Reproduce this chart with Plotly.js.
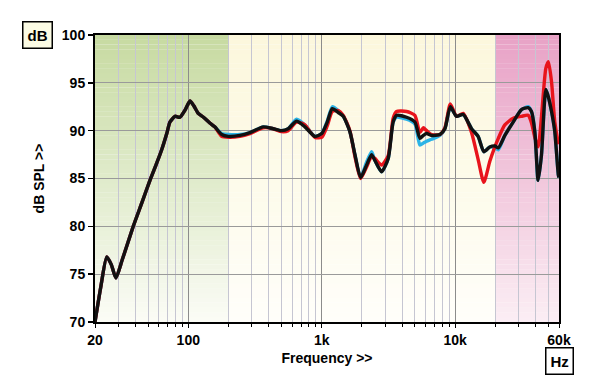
<!DOCTYPE html>
<html>
<head>
<meta charset="utf-8">
<script src="https://cdn.plot.ly/plotly-3.0.1.min.js"></script>
<style>
  html, body { margin: 0; padding: 0; background: #ffffff; }
  #chart { width: 600px; height: 389px; }
</style>
</head>
<body>
<div id="chart"></div>
<script>
// ---------- data ----------
const freq = [20, 22, 24.5, 26.5, 28.7, 32, 38.7, 45, 51.6, 58, 63.2, 69, 72.9, 79.5, 86.6, 95, 103, 110, 118.8, 130, 145, 158, 178, 200, 244, 290, 365, 433, 500, 561, 648, 748, 889, 1000, 1100, 1200, 1330, 1450, 1626, 1774, 1956, 2168, 2365, 2502, 2811, 3150, 3430, 3640, 4325, 4990, 5440, 5770, 6110, 6650, 7680, 8380, 9200, 10240, 11480, 13270, 14860, 16400, 18190, 19830, 21050, 23570, 27200, 31400, 35240, 37320, 39530, 41870, 44360, 47800, 50000, 52750, 55800, 59300, 60000];

const splBlack = [70.0, 73.5, 76.8, 76.0, 74.6, 76.5, 80.0, 82.5, 84.8, 86.6, 88.0, 89.7, 90.9, 91.5, 91.4, 92.2, 93.1, 92.6, 91.8, 91.4, 90.8, 90.4, 89.6, 89.4, 89.5, 89.8, 90.4, 90.2, 90.0, 90.2, 91.0, 90.4, 89.4, 89.7, 90.9, 92.3, 91.9, 91.5, 89.9, 87.5, 85.1, 86.4, 87.5, 86.9, 85.7, 87.1, 90.9, 91.6, 91.4, 90.9, 89.2, 89.5, 89.7, 89.5, 89.6, 90.2, 92.5, 91.5, 91.7, 90.2, 89.4, 87.8, 88.3, 88.4, 88.2, 89.5, 90.9, 92.2, 92.4, 92.0, 89.9, 84.8, 87.5, 94.3, 93.5, 92.0, 89.9, 85.4, 85.1];

const splRed = [70.0, 73.5, 76.8, 76.0, 74.6, 76.5, 80.0, 82.5, 84.8, 86.6, 88.0, 89.7, 90.9, 91.5, 91.4, 92.2, 93.1, 92.6, 91.8, 91.4, 90.8, 90.4, 89.4, 89.3, 89.4, 89.7, 90.3, 90.2, 89.9, 90.0, 90.9, 90.6, 89.3, 89.3, 90.5, 92.0, 92.1, 91.6, 90.0, 87.3, 85.0, 86.2, 87.3, 87.1, 86.4, 87.4, 91.3, 92.0, 92.0, 91.6, 89.8, 90.3, 90.0, 89.6, 89.6, 90.3, 92.8, 91.5, 91.8, 89.8, 87.0, 84.6, 86.8, 88.3, 89.2, 90.6, 91.3, 91.5, 91.6, 90.8, 89.3, 88.3, 91.5, 96.5, 97.2, 95.1, 90.9, 88.8, 88.6];

const splCyan = [70.0, 73.5, 76.8, 76.0, 74.6, 76.5, 80.0, 82.5, 84.8, 86.6, 88.0, 89.7, 90.9, 91.5, 91.4, 92.2, 93.1, 92.6, 91.8, 91.4, 90.8, 90.4, 89.7, 89.6, 89.6, 89.8, 90.4, 90.2, 90.0, 90.2, 91.2, 90.6, 89.4, 89.7, 91.0, 92.5, 92.1, 91.5, 89.9, 87.5, 85.1, 86.7, 87.8, 86.9, 85.7, 87.1, 90.9, 91.4, 91.2, 90.7, 88.5, 88.7, 88.9, 89.1, 89.5, 90.2, 92.5, 91.5, 91.7, 90.2, 89.4, 87.8, 88.3, 88.2, 88.0, 89.5, 90.9, 92.2, 92.5, 92.0, 89.9, 84.8, 87.5, 94.3, 93.5, 92.0, 89.9, 85.4, 85.1];

// tick labels
const xTickVals = [20, 100, 1000, 10000, 60000];
const xTickText = ['20', '100', '1k', '10k', '60k'];
const xMinorVals = [30, 40, 50, 60, 70, 80, 90, 200, 300, 400, 500, 600, 700, 800, 900,
  2000, 3000, 4000, 5000, 6000, 7000, 8000, 9000, 20000, 30000, 40000, 50000];

// background frequency bands: [bottom colour, middle colour, top colour]
const bandEdges = [20, 200, 20000, 60000];
const bandColours = [
  ['#fbfcf6', '#e0ebcb', '#c7daa1'],
  ['#fffefa', '#fdfbea', '#fcf7dc'],
  ['#fbeef4', '#f1c7dc', '#e8a2c6']
];

// ---------- helpers ----------
function hex2rgb(h) {
  return [parseInt(h.slice(1, 3), 16), parseInt(h.slice(3, 5), 16), parseInt(h.slice(5, 7), 16)];
}
function mix(a, b, t) {
  const A = hex2rgb(a), B = hex2rgb(b);
  return 'rgb(' + A.map((v, i) => Math.round(v + (B[i] - v) * t)).join(',') + ')';
}
function colourAt(stops, t) {
  if (t <= 0.5) return mix(stops[0], stops[1], t / 0.5);
  return mix(stops[1], stops[2], (t - 0.5) / 0.5);
}

const yMin = 70, yMax = 100;
const shapes = [];
const nStripes = 60;
for (let b = 0; b < bandEdges.length - 1; b++) {
  for (let s = 0; s < nStripes; s++) {
    const y0 = yMin + (yMax - yMin) * s / nStripes;
    const y1 = yMin + (yMax - yMin) * (s + 1) / nStripes + 0.02;
    shapes.push({
      type: 'rect', layer: 'below', xref: 'x', yref: 'y',
      x0: bandEdges[b], x1: bandEdges[b + 1],
      y0: y0, y1: Math.min(y1, yMax),
      line: { width: 0 },
      fillcolor: colourAt(bandColours[b], (s + 0.5) / nStripes)
    });
  }
}

const font = { family: '"Liberation Sans", Arial, sans-serif', size: 14, color: '#000', weight: 'bold' };
const boxFont = { family: '"Liberation Sans", Arial, sans-serif', size: 15, color: '#000', weight: 'bold' };

const lineCommon = { shape: 'spline', smoothing: 0.6, width: 3.4 };
const traces = [
  { x: freq, y: splCyan, type: 'scatter', mode: 'lines', line: Object.assign({ color: '#2bb3e6' }, lineCommon), hoverinfo: 'skip' },
  { x: freq, y: splRed, type: 'scatter', mode: 'lines', line: Object.assign({ color: '#e8141c' }, lineCommon), hoverinfo: 'skip' },
  { x: freq, y: splBlack, type: 'scatter', mode: 'lines', line: Object.assign({ color: '#111111' }, lineCommon), hoverinfo: 'skip' }
];

const layout = {
  width: 600, height: 389,
  margin: { l: 95, r: 41, t: 35, b: 67, pad: 0 },
  paper_bgcolor: '#ffffff',
  plot_bgcolor: '#ffffff',
  showlegend: false,
  font: font,
  xaxis: {
    type: 'log',
    range: [Math.log10(20), Math.log10(60000)],
    tickmode: 'array', tickvals: xTickVals, ticktext: xTickText,
    ticks: 'outside', ticklen: 4, tickwidth: 1, tickcolor: '#000',
    tickfont: font,
    showgrid: true, gridcolor: '#8c8c8c', gridwidth: 1,
    minor: { tickvals: xMinorVals, ticks: 'outside', ticklen: 3, tickcolor: '#000', showgrid: true, gridcolor: '#c6c6d2', gridwidth: 1 },
    showline: true, linecolor: '#000', linewidth: 2, mirror: true,
    zeroline: false,
    title: { text: 'Frequency >>', font: font, standoff: 6 }
  },
  yaxis: {
    range: [yMin, yMax],
    tickmode: 'linear', tick0: 70, dtick: 5,
    ticks: 'outside', ticklen: 5, tickwidth: 1.5, tickcolor: '#000',
    tickfont: font,
    showgrid: true, gridcolor: '#9a9a9a', gridwidth: 1,
    showline: true, linecolor: '#000', linewidth: 2, mirror: true,
    zeroline: false,
    title: { text: 'dB SPL >>', font: font, standoff: 14 }
  },
  shapes: shapes,
  annotations: [
    { text: 'dB', xref: 'paper', yref: 'paper', x: -0.125, y: 1.0, xanchor: 'center', yanchor: 'middle',
      showarrow: false, font: boxFont, bgcolor: '#fbfbe4', bordercolor: '#000', borderwidth: 1.5, borderpad: 4 },
    { text: 'Hz', xref: 'paper', yref: 'paper', x: 1.002, y: -0.135, xanchor: 'center', yanchor: 'middle',
      showarrow: false, font: boxFont, bgcolor: '#ffffff', bordercolor: '#000', borderwidth: 1.5, borderpad: 4 }
  ]
};

Plotly.newPlot('chart', traces, layout, { staticPlot: true, displayModeBar: false });
</script>
</body>
</html>
